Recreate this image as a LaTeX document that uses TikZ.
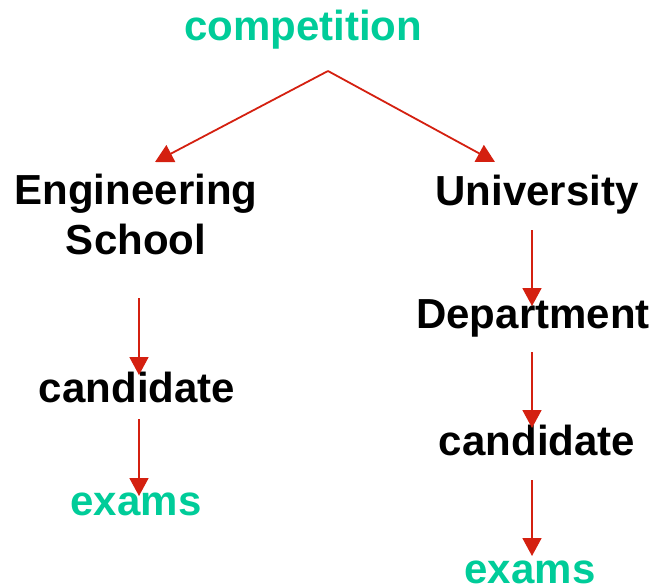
\documentclass[tikz,border=0pt]{standalone}
\usepackage{fontspec}
\setmainfont{Liberation Sans}
\usetikzlibrary{arrows.meta}
\definecolor{tgreen}{RGB}{0,204,153}
\definecolor{tred}{RGB}{212,32,16}
\begin{document}
\begin{tikzpicture}[x=1pt,y=-1pt,
  lbl/.style={font=\fontsize{42}{50}\selectfont\bfseries, inner sep=0pt, anchor=base, align=center},
  leaf/.style={lbl, text=tgreen},
  link/.style={draw=tred, line width=1.8pt, -{Triangle[length=18pt,width=19pt]}}]
\useasboundingbox (0,0) rectangle (657,587);
\node[leaf] (comp) at (303,40) {competition};
\node[lbl, anchor=center] (eng) at (136,214) {Engineering\\School};
\node[lbl] (uni) at (537,205) {University};
\node[lbl] (dep) at (533,328) {Department};
\node[lbl] (candL) at (137,402) {candidate};
\node[lbl] (candR) at (537,455) {candidate};
\node[leaf] (exL) at (136,515) {exams};
\node[leaf] (exR) at (530,583) {exams};
\coordinate (apex) at (328,71);
\coordinate (tipE) at (155,162);
\coordinate (tipU) at (495,162);
\coordinate (e1) at (139,298); \coordinate (e2) at (139,375);
\coordinate (e3) at (139,419); \coordinate (e4) at (139,496);
\coordinate (u1) at (532,230); \coordinate (u2) at (532,306);
\coordinate (u3) at (532,352); \coordinate (u4) at (532,428);
\coordinate (u5) at (532,480); \coordinate (u6) at (532,556);
\draw[link] (apex) -- (tipE);
\draw[link] (apex) -- (tipU);
\draw[link] (e1) -- (e2);
\draw[link] (e3) -- (e4);
\draw[link] (u1) -- (u2);
\draw[link] (u3) -- (u4);
\draw[link] (u5) -- (u6);
\end{tikzpicture}
\end{document}
